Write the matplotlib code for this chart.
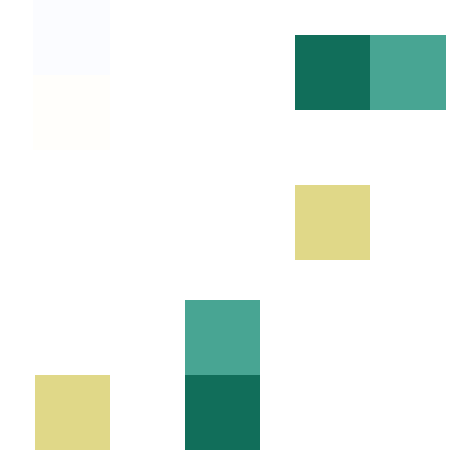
from matplotlib import pyplot as plt
from matplotlib.colors import ListedColormap
import numpy as np

# category codes: 0 = dark green, 1 = teal, 2 = yellow, nan = empty
category_colors = ["#116e5a", "#48a593", "#e0d888"]
faint_colors = ["#fbfcff", "#fffefb"]

top_right_cells = [
    [0, 1],
    [np.nan, np.nan],
    [2, np.nan],
]
bottom_left_cells = [
    [np.nan, np.nan, 1],
    [2, np.nan, 0],
]
top_left_cells = [
    [0],
    [1],
]

W, H = 476, 475


def px_axes(fig, x0, y0, x1, y1):
    """Axes placed by pixel box (top-left origin)"""
    ax = fig.add_axes([x0 / W, 1 - y1 / H, (x1 - x0) / W, (y1 - y0) / H])
    ax.set_axis_off()
    return ax


fig = plt.figure(figsize=(W / 100, H / 100), dpi=100)
fig.patch.set_facecolor("white")

cmap = ListedColormap(category_colors)
faint = ListedColormap(faint_colors)

ax = px_axes(fig, 33, 0, 110, 150)
ax.imshow(np.array(top_left_cells, dtype=float), cmap=faint, vmin=0, vmax=1,
          aspect="auto", interpolation="nearest")

ax = px_axes(fig, 295, 35, 446, 260)
ax.imshow(np.array(top_right_cells, dtype=float), cmap=cmap, vmin=0, vmax=2,
          aspect="auto", interpolation="nearest")

ax = px_axes(fig, 35, 300, 260, 450)
ax.imshow(np.array(bottom_left_cells, dtype=float), cmap=cmap, vmin=0, vmax=2,
          aspect="auto", interpolation="nearest")

fig.savefig("out.png", dpi=100)
plt.close()
